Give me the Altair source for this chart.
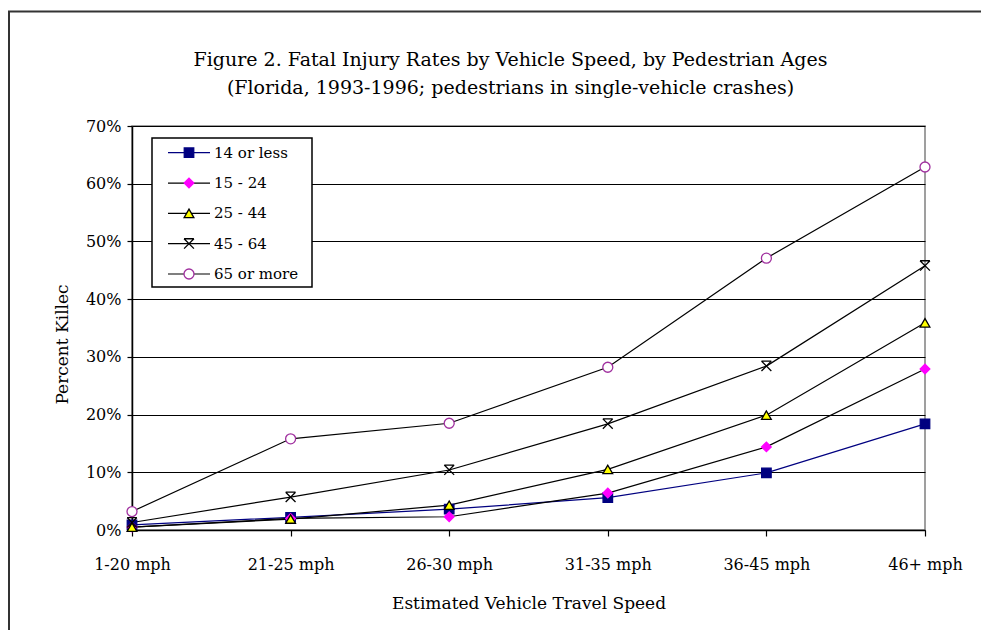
import altair as alt
import pandas as pd

# ---- data ----
speeds = ["1-20 mph", "21-25 mph", "26-30 mph", "31-35 mph", "36-45 mph", "46+ mph"]
series_names = ["14 or less", "15 - 24", "25 - 44", "45 - 64", "65 or more"]
age_14_or_less = [0.9, 2.2, 3.6, 5.6, 9.9, 18.4]
age_15_24 = [0.5, 2.0, 2.3, 6.4, 14.4, 27.9]
age_25_44 = [0.5, 1.9, 4.3, 10.5, 19.9, 35.9]
age_45_64 = [1.3, 5.7, 10.4, 18.4, 28.4, 45.8]
age_65_or_more = [3.2, 15.8, 18.5, 28.2, 47.1, 62.9]
y_ticks = [0, 10, 20, 30, 40, 50, 60, 70]

title_lines = ["Figure 2. Fatal Injury Rates by Vehicle Speed, by Pedestrian Ages",
               "(Florida, 1993-1996; pedestrians in single-vehicle crashes)"]

# ---- styles ----
line_colors = ["#000080", "#000000", "#000000", "#000000", "#000000"]
star_path = "M-1,-1L1,-1M-1,-1L1,1M1,-1L-1,1"
shapes = ["square", "diamond", "triangle-up", star_path, "circle"]
fills = ["#000080", "#FF00FF", "#FFFF00", "transparent", "#FFFFFF"]
strokes = ["#000080", "#FF00FF", "#000000", "#000000", "#A0309F"]
sizes = [90, 100, 100, 40, 80]
FONT = "DejaVu Serif"

all_vals = [age_14_or_less, age_15_24, age_25_44, age_45_64, age_65_or_more]
rows = []
for name, vals in zip(series_names, all_vals):
    for s, v in zip(speeds, vals):
        rows.append({"series": name, "speed": s, "value": v})
df = pd.DataFrame(rows)
legend_df = pd.DataFrame({"series": series_names})
one = pd.DataFrame({"k": [0]})

W, H = 793, 404

color_enc = alt.Color("series:N", scale=alt.Scale(domain=series_names, range=line_colors), legend=None)
shape_enc = alt.Shape("series:N", scale=alt.Scale(domain=series_names, range=shapes), legend=None)
fill_enc = alt.Fill("series:N", scale=alt.Scale(domain=series_names, range=fills), legend=None)
stroke_enc = alt.Stroke("series:N", scale=alt.Scale(domain=series_names, range=strokes), legend=None)
size_enc = alt.Size("series:N", scale=alt.Scale(domain=series_names, range=sizes), legend=None)

x_enc = alt.X("speed:N", sort=speeds,
              scale=alt.Scale(type="point", padding=0),
              axis=alt.Axis(title="Estimated Vehicle Travel Speed", labelAngle=0,
                            labelPadding=20, tickSize=6, grid=False, titlePadding=23))
y_enc = alt.Y("value:Q", scale=alt.Scale(domain=[0, 70]),
              axis=alt.Axis(values=y_ticks, labelExpr="datum.value + '%'",
                            title="Percent Killec", orient="left", grid=True,
                            gridColor="#000000", gridWidth=1.2, tickSize=5, labelPadding=6,
                            titleX=-65, titleY=218, titleBaseline="alphabetic"))

lines = alt.Chart(df).mark_line(strokeWidth=1.2).encode(
    x=x_enc, y=y_enc, color=color_enc, detail="series:N")
points = alt.Chart(df).mark_point(opacity=1, fillOpacity=1, strokeWidth=1.3).encode(
    x=x_enc, y=y_enc, shape=shape_enc, fill=fill_enc, stroke=stroke_enc, size=size_enc)
main = alt.layer(lines, points)

ly = alt.Y("series:N", sort=series_names,
           scale=alt.Scale(type="point", range=[26.7, 148], padding=0), axis=None)
box = alt.Chart(one).mark_rect(fill="#FFFFFF", stroke="#000000", strokeWidth=1.5).encode(
    x=alt.value(20), x2=alt.value(180), y=alt.value(12), y2=alt.value(161))
lrules = alt.Chart(legend_df).mark_rule(strokeWidth=1.2).encode(
    x=alt.value(36), x2=alt.value(78), y=ly, color=color_enc)
lpoints = alt.Chart(legend_df).mark_point(opacity=1, fillOpacity=1, strokeWidth=1.3).encode(
    x=alt.value(57), y=ly, shape=shape_enc, fill=fill_enc, stroke=stroke_enc, size=size_enc)
ltext = alt.Chart(legend_df).mark_text(align="left", baseline="middle", font=FONT,
                                       fontSize=15, color="#000000").encode(
    x=alt.value(82), y=ly, text="series:N")
legend = alt.layer(box, lrules, lpoints, ltext)

frame = alt.Chart(one).mark_rect(fill="transparent", stroke="#333333", strokeWidth=2).encode(
    x=alt.value(-123), x2=alt.value(W + 300), y=alt.value(-114.5), y2=alt.value(H + 300))

title = alt.Chart(one).mark_text(font=FONT, fontSize=19, lineHeight=28, align="center",
                                 baseline="middle", color="#000000").encode(
    x=alt.value(W / 2 - 18), y=alt.value(-66), text=alt.value(title_lines))

chart = alt.layer(frame, title, main, legend).resolve_scale(y="independent").properties(
    width=W, height=H,
    autosize=alt.AutoSizeParams(type="none"),
    padding={"left": 124, "top": 118, "right": 56, "bottom": 100},
    background="#FFFFFF",
).configure_view(stroke="#808080", strokeWidth=1.5).configure_axis(
    labelFont=FONT, titleFont=FONT, labelFontSize=16, titleFontSize=17,
    titleFontWeight="normal", labelColor="#000000", titleColor="#000000",
    domainColor="#000000", domainWidth=1.5, tickColor="#000000", tickWidth=1.2)

chart.save("out.html", embed_options={"renderer": "svg", "actions": False})
